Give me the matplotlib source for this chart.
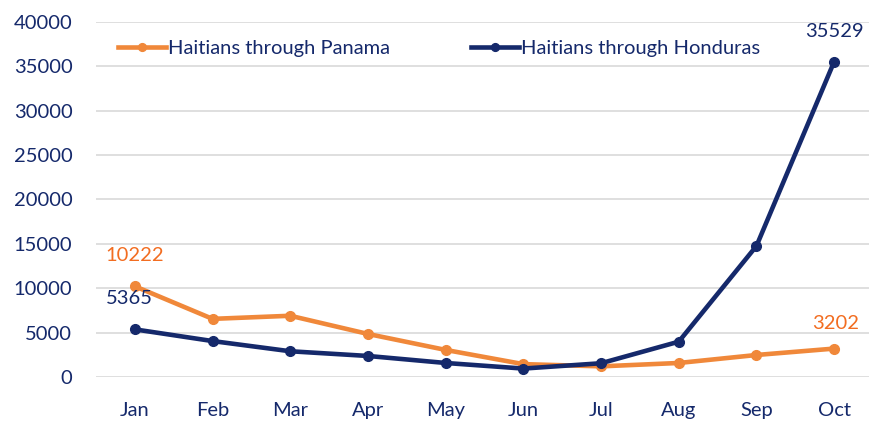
import matplotlib.pyplot as plt

months = ["Jan", "Feb", "Mar", "Apr", "May", "Jun", "Jul", "Aug", "Sep", "Oct"]
panama = [10222, 6550, 6900, 4850, 3050, 1450, 1200, 1580, 2480, 3202]
honduras = [5365, 4050, 2900, 2370, 1580, 950, 1550, 3980, 14760, 35529]

NAVY = "#15296b"
ORANGE = "#f0883a"
ORANGE_TXT = "#f26d21"

plt.rcParams['font.family'] = ['Lato', 'DejaVu Sans']

fig = plt.figure(figsize=(8.69, 4.22), dpi=100)
ax = fig.add_axes([96 / 869, 1 - 377 / 422, 777 / 869, 355 / 422])

x = range(len(months))
ax.plot(x, panama, color=ORANGE, lw=3.3, marker="o", ms=7, label="Haitians through Panama", zorder=3)
ax.plot(x, honduras, color=NAVY, lw=3.3, marker="o", ms=7, label="Haitians through Honduras", zorder=4)

# etykiety wartości
ax.annotate(str(panama[0]), (0, panama[0]), xytext=(0, 18), textcoords="offset points",
            ha="center", color=ORANGE_TXT, fontsize=14.5)
ax.annotate(str(honduras[0]), (0, honduras[0]), xytext=(-4, 18), textcoords="offset points",
            ha="center", color=NAVY, fontsize=14.5)
ax.annotate(str(panama[-1]), (9, panama[-1]), xytext=(1, 14), textcoords="offset points",
            ha="center", color=ORANGE_TXT, fontsize=14.5)
ax.annotate(str(honduras[-1]), (9, honduras[-1]), xytext=(0, 18), textcoords="offset points",
            ha="center", color=NAVY, fontsize=14.5)

ax.set_xlim(-0.5, 9.5)
ax.set_ylim(0, 40000)
ax.set_yticks(range(0, 40001, 5000))
ax.set_xticks(list(x))
ax.set_xticklabels(months)
ax.grid(axis="y", color="#d9d9d9", lw=1.2)
ax.set_axisbelow(True)
for s in ax.spines.values():
    s.set_visible(False)
ax.tick_params(length=0, labelsize=14.5, labelcolor=NAVY)
ax.tick_params(axis="x", pad=18)
ax.tick_params(axis="y", pad=17)

ax.legend(loc="upper left", bbox_to_anchor=(0.005, 1.0), ncol=2, frameon=False,
          fontsize=14.5, labelcolor=NAVY, handlelength=2.4, handletextpad=0.1,
          columnspacing=4.0, markerscale=0.8)

fig.savefig("out.png", dpi=100)
